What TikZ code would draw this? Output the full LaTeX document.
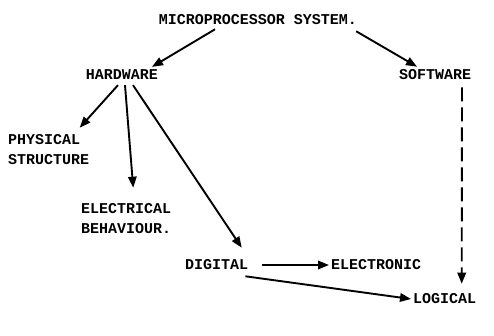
\documentclass[tikz,border=0pt]{standalone}
\usepackage{fontspec}
\setmonofont{Liberation Mono}
\usetikzlibrary{arrows.meta,calc,positioning}

\begin{document}
\begin{tikzpicture}[x=1pt,y=-1pt,
  font=\ttfamily\bfseries\fontsize{15}{20}\selectfont,
  >={Triangle[length=11pt,width=8.5pt]},
  lbl/.style={inner sep=2pt,align=left},
  arr/.style={->,line width=1.9pt},
  darr/.style={->,line width=1.9pt,dash pattern=on 14pt off 6pt}]
  \useasboundingbox (0,0) rectangle (494,336);
  % labels
  \node[lbl] (micro) at (258,20) {MICROPROCESSOR SYSTEM.};
  \node[lbl] (hw) at (122,75) {HARDWARE};
  \node[lbl] (sw) at (435,75) {SOFTWARE};
  \node[lbl,anchor=west] (phys) at (6,150) {PHYSICAL\\STRUCTURE};
  \node[lbl,anchor=west] (elec) at (79,219) {ELECTRICAL\\BEHAVIOUR.};
  \node[lbl,anchor=west] (digital) at (183,265) {DIGITAL};
  \node[lbl,anchor=west] (electronic) at (329,265) {ELECTRONIC};
  \node[lbl,anchor=west] (logical) at (411,299) {LOGICAL};
  % tree
  \draw[arr] ([xshift=-43pt,yshift=-2pt]micro.south) -- ([xshift=30pt,yshift=1pt]hw.north);
  \draw[arr] ([xshift=-3pt,yshift=-4pt]micro.south east) -- ([xshift=-18pt,yshift=1pt]sw.north);
  \draw[arr] ([xshift=-4pt,yshift=-3pt]hw.south) -- ([xshift=31pt,yshift=5pt]phys.north);
  \draw[arr] ([xshift=3pt,yshift=-3pt]hw.south) -- ([xshift=7pt,yshift=14pt]elec.north);
  \draw[arr] ([xshift=11pt,yshift=-3pt]hw.south) -- ([xshift=25pt,yshift=10pt]digital.north);
  \draw[arr] ([xshift=12pt]digital.east) -- (electronic.west);
  \draw[arr] ([xshift=-5pt,yshift=-4pt]digital.south east) -- (logical.west);
  \draw[darr] ([xshift=27pt,yshift=-5pt]sw.south) -- ([xshift=17pt,yshift=8pt]logical.north);
\end{tikzpicture}
\end{document}
